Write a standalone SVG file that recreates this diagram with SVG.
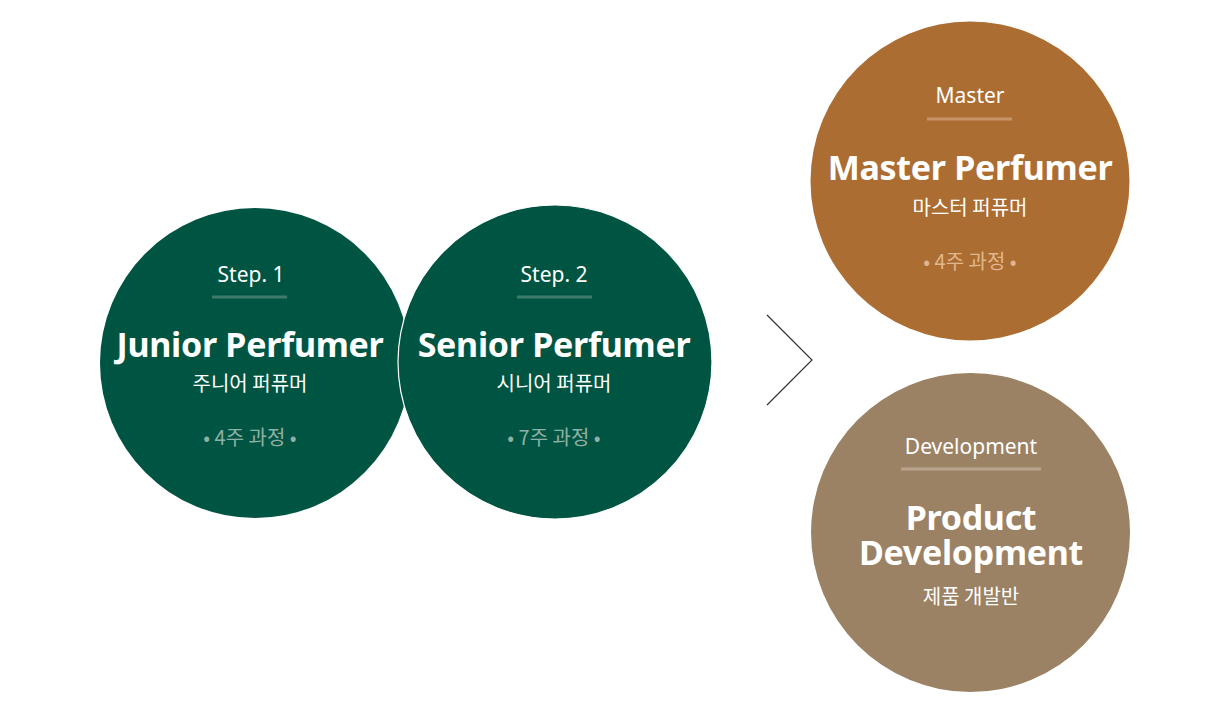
<svg xmlns="http://www.w3.org/2000/svg" width="1219" height="713" viewBox="0 0 1219 713">
<style>
.sm{font-family:"Noto Sans","Noto Sans CJK KR",sans-serif;font-size:21px;fill:#fff;text-anchor:middle}
.tt{font-family:"Noto Sans","Noto Sans CJK KR",sans-serif;font-size:34px;font-weight:bold;fill:#fff;text-anchor:middle;letter-spacing:-0.3px}
.ko{font-family:"Noto Sans CJK KR",sans-serif;font-size:20px;fill:#fff;text-anchor:middle}
.cs{font-family:"Noto Sans CJK KR",sans-serif;font-size:20px;text-anchor:middle}
</style>
<rect width="1219" height="713" fill="#fff"/>
<g id="junior">
<circle cx="255" cy="363" r="155" fill="#005542"/>
<text class="sm" x="251" y="282">Step. 1</text>
<line x1="212" y1="297" x2="287" y2="297" stroke="#3f7b6b" stroke-width="3"/>
<text class="tt" x="250" y="357">Junior Perfumer</text>
<text class="ko" x="250" y="391">주니어 퍼퓨머</text>
<text class="cs" x="250" y="445" fill="#8fb0a6">• 4주 과정 •</text>
</g>
<g id="senior">
<circle cx="555" cy="362" r="157" fill="#005542" stroke="#fff" stroke-width="1.2"/>
<text class="sm" x="554" y="282">Step. 2</text>
<line x1="517" y1="297" x2="592" y2="297" stroke="#3f7b6b" stroke-width="3"/>
<text class="tt" x="554" y="357">Senior Perfumer</text>
<text class="ko" x="554" y="391">시니어 퍼퓨머</text>
<text class="cs" x="554" y="445" fill="#8fb0a6">• 7주 과정 •</text>
</g>
<g id="connectors">
<polyline points="767,315 812,360 767,405" fill="none" stroke="#333" stroke-width="1.2"/>
</g>
<g id="master">
<circle cx="970" cy="181" r="159.5" fill="#ac6d32"/>
<text class="sm" x="970" y="103">Master</text>
<line x1="927" y1="119" x2="1012" y2="119" stroke="#c79468" stroke-width="3"/>
<text class="tt" x="970" y="180">Master Perfumer</text>
<text class="ko" x="970" y="215">마스터 퍼퓨머</text>
<text class="cs" x="970" y="269" fill="#e0b68c">• 4주 과정 •</text>
</g>
<g id="development">
<circle cx="970.5" cy="532.5" r="159.5" fill="#9c8264"/>
<text class="sm" x="971" y="454">Development</text>
<line x1="901" y1="469" x2="1041" y2="469" stroke="#b8a48c" stroke-width="3"/>
<text class="tt" x="971" y="530">Product</text>
<text class="tt" x="971" y="565">Development</text>
<text class="ko" x="971" y="604">제품 개발반</text>
</g>
</svg>
